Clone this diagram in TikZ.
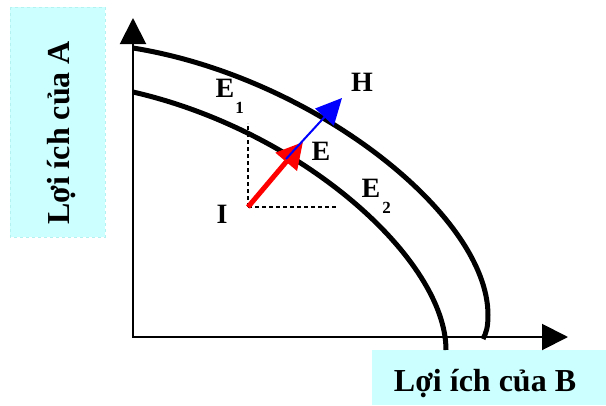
\documentclass[tikz,border=0pt]{standalone}
\usepackage{fontspec}
\setmainfont{Liberation Serif}
\usetikzlibrary{arrows.meta, positioning}
\definecolor{boxcyan}{HTML}{CCFFFF}
\definecolor{boxedge}{HTML}{B4F2F2}

\begin{document}
\begin{tikzpicture}[x=1pt, y=-1pt,
					axis/.style={line width=2pt, -{Triangle[length=26pt, width=26pt]}},
					curve/.style={line width=5pt},
					guide/.style={line width=2pt, dash pattern=on 4pt off 3pt},
					lab/.style={font=\fontsize{28}{28}\bfseries\selectfont, inner sep=0pt},
					sublab/.style={font=\fontsize{17}{17}\bfseries\selectfont, inner sep=0pt},
					axislab/.style={font=\fontsize{32}{32}\bfseries\selectfont, inner sep=0pt}
					]
					\useasboundingbox (0,0) rectangle (606,405);
					
					% Label boxes
					\fill [boxcyan] (10,7) rectangle (105,237);
					\draw [boxedge, line width=1pt, dashed] (10,7) rectangle (105,237);
					\fill [boxcyan] (372,350) rectangle (606,405);
					\node (alab) [axislab, rotate=90] at (62,133) {Lợi ích của A};
					\node (blab) [axislab] at (485,384) {Lợi ích của B};
					
					% Axes
					\coordinate (O) at (133,337);
					\coordinate (ytip) at (133,18);
					\coordinate (xtip) at (568,337);
					\draw [axis] ([yshift=1pt]O) -- (ytip);
					\draw [axis] ([xshift=-1pt]O) -- (xtip);
					
					% Frontiers
					\draw [curve] (133,48) .. controls (313,77) and (488,215) .. (488,315)
					.. controls (488,328) and (486,333) .. (483,339);
					\draw [curve] (133,92) .. controls (303,131) and (446,260) .. (446,350);
					
					% Points and guides
					\coordinate (I) at (248,207);
					\coordinate (E) at (286,159);
					\coordinate (Iup) at (248,123);
					\coordinate (Iright) at (338,207);
					\coordinate (redtip) at (303,142);
					\coordinate (Htip) at (342,98);
					\draw [guide] (I) -- (Iup);
					\draw [guide] (I) -- (Iright);
					
					% Arrows
					\draw [red, line width=5pt, -{Triangle[length=26pt, width=27pt]}] (I) -- (redtip);
					\draw [blue, line width=2pt, -{Triangle[length=26pt, width=25pt]}] (E) -- (Htip);
					
					% Labels
					\node (hlab) [lab] at (362,82) {H};
					\node (elab) [lab] at (321,151) {E};
					\node (ilab) [lab] at (222,214) {I};
					\node (eone) [lab] at (225,88) {E};
					\node (eonesub) [sublab] at (239.5,108) {1};
					\node (etwo) [lab] at (371,188) {E};
					\node (etwosub) [sublab] at (386.5,208) {2};
					
				\end{tikzpicture}
\end{document}
